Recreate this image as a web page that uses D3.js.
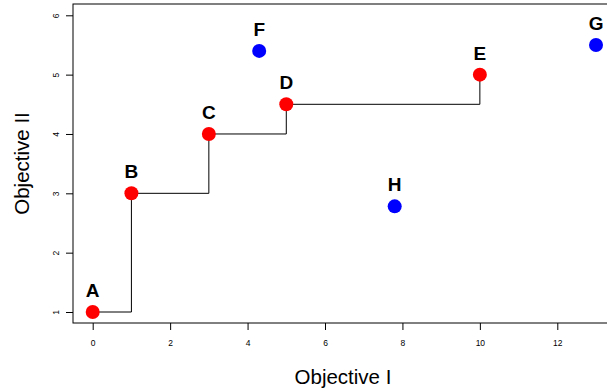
<!DOCTYPE html>
<html><head><meta charset="utf-8">
<script src="https://cdn.jsdelivr.net/npm/d3@7"></script>
<style>body{margin:0;background:#fff;} svg{display:block;font-family:"Liberation Sans",Arial,Helvetica,sans-serif;}</style>
</head><body><svg id="c" width="607" height="392"></svg>
<script>
const labels = ["A","B","C","D","E","F","G","H"];
const xVals = [0, 1, 3, 5, 10, 4.3, 13, 7.8];
const yVals = [1, 3, 4, 4.5, 5, 5.4, 5.5, 2.78];
const pareto = [true, true, true, true, true, false, false, false];
const xTicks = [0, 2, 4, 6, 8, 10, 12];
const yTicks = [1, 2, 3, 4, 5, 6];

(function(){
const svg = d3.select("#c");
const x = d3.scaleLinear().domain([0, 12]).range([92.7, 557.3]);
const y = d3.scaleLinear().domain([1, 6]).range([312, 15.3]);
const pl = 73, pt = 4, pb = 323, pr = 640;

svg.append("rect").attr("x", pl).attr("y", pt).attr("width", pr-pl).attr("height", pb-pt)
  .attr("fill","none").attr("stroke","#000").attr("stroke-width",1);

const gx = svg.append("g").attr("transform",`translate(0,${pb})`)
  .call(d3.axisBottom(x).tickValues(xTicks).tickFormat(d3.format("d")).tickSize(7).tickPadding(10).tickSizeOuter(0));
gx.select(".domain").remove();
gx.selectAll("text").attr("font-size","8.5px").attr("font-family","Liberation Sans, Arial, sans-serif").attr("fill","#000");

const gy = svg.append("g").attr("transform",`translate(${pl},0)`)
  .call(d3.axisLeft(y).tickValues(yTicks).tickFormat(d3.format("d")).tickSize(7).tickSizeOuter(0));
gy.select(".domain").remove();
gy.selectAll("text").attr("font-size","8.5px").attr("font-family","Liberation Sans, Arial, sans-serif")
  .attr("fill","#000").attr("text-anchor","middle").attr("dy","0")
  .attr("transform","translate(-17,0) rotate(-90)").attr("x",0).attr("y",3);

const pts = labels.map((l,i)=>({l, x:xVals[i], y:yVals[i], p:pareto[i]}));
const front = pts.filter(d=>d.p);
const line = d3.line().x(d=>x(d.x)).y(d=>y(d.y)).curve(d3.curveStepAfter);
svg.append("path").attr("d", line(front)).attr("fill","none").attr("stroke","#000").attr("stroke-width",1);

svg.selectAll("circle.pt").data(pts).enter().append("circle")
  .attr("cx",d=>x(d.x)).attr("cy",d=>y(d.y)).attr("r",7)
  .attr("fill",d=>d.p?"#ff0000":"#0000ff");

svg.selectAll("text.lab").data(pts).enter().append("text")
  .attr("x",d=>x(d.x)).attr("y",d=>y(d.y)-15).attr("text-anchor","middle")
  .attr("font-size","19px").attr("font-weight","bold").attr("fill","#000").text(d=>d.l);

svg.append("text").attr("x",343).attr("y",384).attr("text-anchor","middle")
  .attr("font-size","20.5px").text("Objective I");
svg.append("text").attr("transform","translate(28.5,163.5) rotate(-90)").attr("text-anchor","middle")
  .attr("font-size","20.5px").text("Objective II");
})();
</script></body></html>
